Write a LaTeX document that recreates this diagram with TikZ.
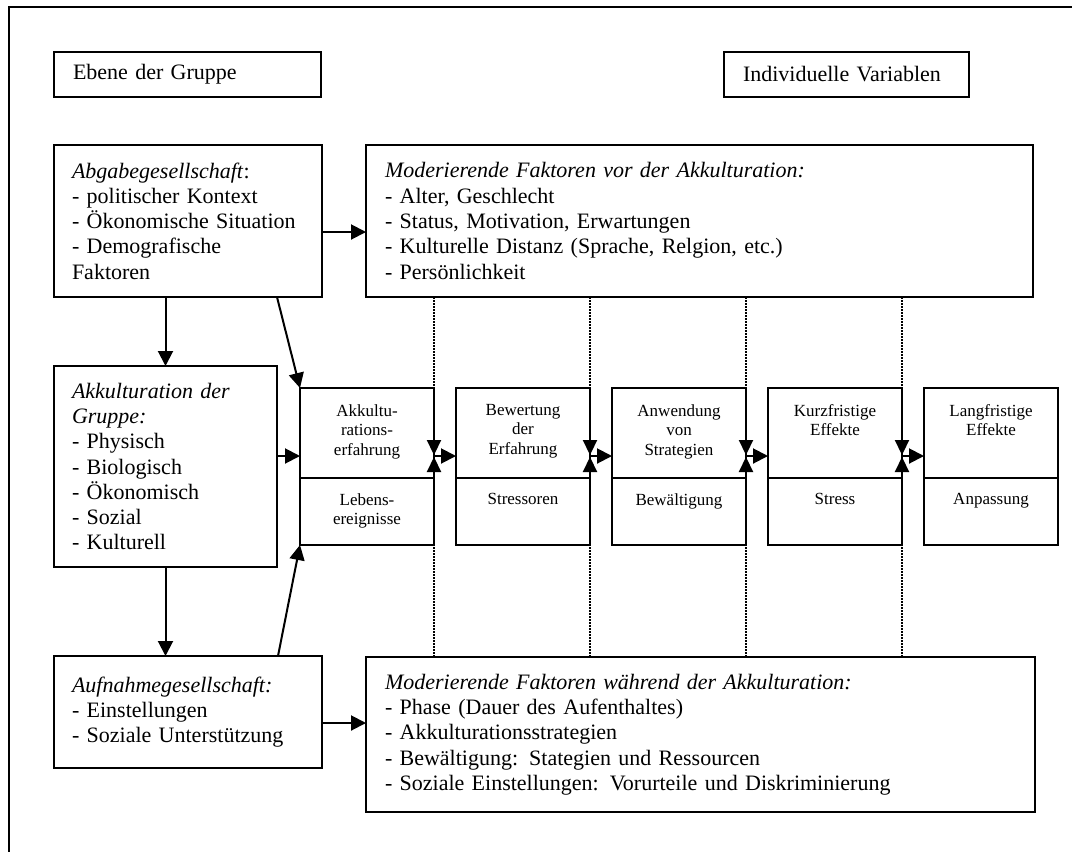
\documentclass[tikz,border=0pt]{standalone}
\usepackage{fontspec}
\setmainfont{Liberation Serif}[Ligatures={TeX,CommonOff}]
\usetikzlibrary{arrows.meta}

\begin{document}
\begin{tikzpicture}[x=1pt,y=-1pt,
  box/.style={draw, line width=2pt, inner sep=0pt, outer sep=0pt, anchor=north west},
  big/.style={font=\fontsize{22}{25.3}\selectfont, align=left},
  pbox/.style={draw, line width=2pt, inner sep=0pt, outer sep=0pt, anchor=north west, minimum width=134pt},
  ptext/.style={font=\fontsize{17}{19.5}\selectfont, align=center, inner sep=0pt, anchor=north},
  arr/.style={line width=2pt, -{Triangle[length=15pt,width=15pt]}},
  infl/.style={line width=2.2pt, dash pattern=on 1.6pt off 1.4pt, -{Triangle[length=15pt,width=14pt]}}
]
\useasboundingbox (0,0) rectangle (1072,852);
\fill[white] (0,0) rectangle (1072,852);

% outer frame (left and top edges)
\draw[line width=2pt] (9,852) -- (9,7) -- (1072,7);

% level headings
\node[box, big, minimum width=267pt, minimum height=45pt, text width=229pt] (ebene) at (54,52) {Ebene der Gruppe};
\node[box, big, minimum width=245pt, minimum height=45pt, text width=207pt] (indiv) at (724,52) {Individuelle Variablen};

% group level
\node[box, big, minimum width=268pt, minimum height=152pt, text width=232pt] (abg) at (54,145)
  {\textit{Abgabegesellschaft}:\\- politischer Kontext\\- Ökonomische Situation\\- Demografische\\Faktoren};
\node[box, big, minimum width=223pt, minimum height=201pt, text width=187pt] (akkG) at (54,366)
  {\textit{Akkulturation der}\\\textit{Gruppe:}\\- Physisch\\- Biologisch\\- Ökonomisch\\- Sozial\\- Kulturell};
\node[box, big, minimum width=268pt, minimum height=112pt, text width=232pt] (auf) at (54,656)
  {\textit{Aufnahmegesellschaft:}\\- Einstellungen\\- Soziale Unterstützung};

% moderating factors
\node[box, big, minimum width=667pt, minimum height=152pt, text width=629pt] (modvor) at (366,145)
  {\textit{Moderierende Faktoren vor der Akkulturation:}\\- Alter, Geschlecht\\- Status, Motivation, Erwartungen\\- Kulturelle Distanz (Sprache, Relgion, etc.)\\- Persönlichkeit};
\node[box, big, minimum width=669pt, minimum height=155pt, text width=631pt] (modw) at (366,657)
  {\textit{Moderierende Faktoren während der Akkulturation:}\\- Phase (Dauer des Aufenthaltes)\\- Akkulturationsstrategien\\- Bewältigung: Stategien und Ressourcen\\- Soziale Einstellungen: Vorurteile und Diskriminierung};

% process chain
\foreach \i/\ta/\tb in {
  1/{Akkultu-\\rations-\\erfahrung}/{Lebens-\\ereignisse},
  2/{Bewertung\\der\\Erfahrung}/{Stressoren},
  3/{Anwendung\\von\\Strategien}/{Bewältigung},
  4/{Kurzfristige\\Effekte}/{Stress},
  5/{Langfristige\\Effekte}/{Anpassung}} {
  \node[pbox, minimum height=90pt] (top\i) at ({300+156*(\i-1)},388) {};
  \node[pbox, minimum height=67pt] (bot\i) at ({300+156*(\i-1)},478) {};
  \node[ptext] (toptx\i) at ([yshift=-16pt]top\i.north) {\ta};
  \node[ptext] (bottx\i) at ([yshift=-15pt]bot\i.north) {\tb};
}
\coordinate (flow) at (300,456);

% group-level connectors
\draw[arr] (akkG.north |- abg.south) -- (akkG.north);
\draw[arr] (akkG.south) -- (akkG.south |- auf.north);
\draw[arr] ([yshift=-11pt]abg.east) -- ([yshift=-11pt]abg.east -| modvor.west);
\draw[arr] ([yshift=-11pt]auf.east) -- ([yshift=-11pt]auf.east -| modw.west);
\draw[arr] (akkG.east |- flow) -- (top1.west |- flow);
\draw[arr] ([xshift=89pt]abg.south) -- (top1.north west);
\draw[arr] ([xshift=90pt]auf.north) -- (bot1.south west);

% chain links with moderating influences
\foreach \i/\j in {1/2,2/3,3/4,4/5} {
  \draw[infl] (top\i.east |- modvor.south) -- ([yshift=1pt]top\i.east |- flow);
  \draw[infl] (top\i.east |- modw.north) -- ([yshift=-1pt]top\i.east |- flow);
  \draw[arr] (top\i.east |- flow) -- (top\j.west |- flow);
}
\end{tikzpicture}
\end{document}
